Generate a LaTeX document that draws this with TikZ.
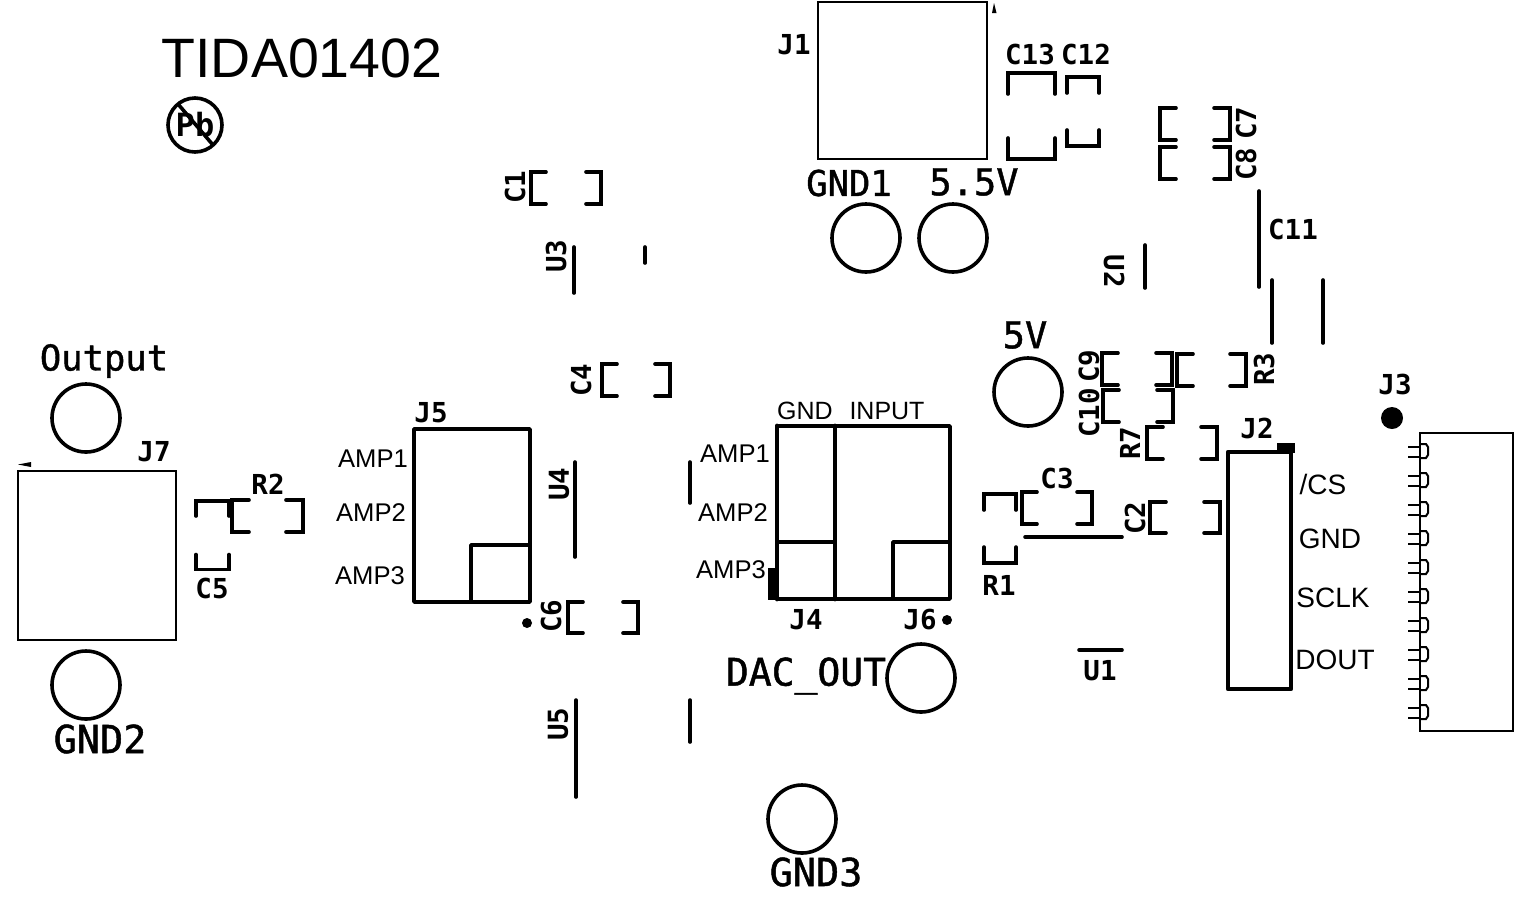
\documentclass[tikz,border=0pt]{standalone}
\usepackage{fontspec}
\setmainfont{Liberation Sans}
\newfontfamily\silkfont[FakeBold=1.2]{DejaVu Sans Mono}
\newfontfamily\silkbold{DejaVu Sans Mono Bold}
\tikzset{
  silksmall/.style={inner sep=0pt,font=\silkbold\fontsize{27.5}{27.5}\selectfont},
  silklarge/.style={inner sep=0pt,font=\silkfont\fontsize{37}{37}\selectfont},
  arial/.style={inner sep=0pt,font=\fontsize{25.6}{25.6}\selectfont},
  thinout/.style={draw=black,line width=2.8pt},
  body/.style={draw=black,line width=3.6pt,line cap=round,line join=round},
  heavy/.style={draw=black,line width=4.8pt,line cap=round,line join=round},
  ink/.style={draw=black,line width=3.6pt,line cap=round,line join=miter},
  pad/.style={draw=black,line width=3.6pt},
  pinline/.style={draw=black,line width=2pt},
}
\newcommand{\brk}[5]{% x1 x2 y1 y2 inner-depth: two facing brackets, horizontal opening
  \draw[ink] (#1+#5,#3) -- (#1,#3) -- (#1,#4) -- (#1+#5,#4);
  \draw[ink] (#2-#5,#3) -- (#2,#3) -- (#2,#4) -- (#2-#5,#4);}
\newcommand{\vbrk}[5]{% x1 x2 y1 y2 depth: top and bottom brackets
  \draw[ink] (#1,#3+#5) -- (#1,#3) -- (#2,#3) -- (#2,#3+#5);
  \draw[ink] (#1,#4-#5) -- (#1,#4) -- (#2,#4) -- (#2,#4-#5);}
\begin{document}
\begin{tikzpicture}[x=1pt,y=-1pt]
\useasboundingbox (0,0) rectangle (1522,898);

% title and lead free mark
\node[inner sep=0pt,font=\fontsize{55.5}{55.5}\selectfont] (title) at (302,58) {TIDA01402};
\node[pad,circle,minimum size=54pt,inner sep=0pt] (pbmark) at (195,125) {};
\node[inner sep=0pt,font=\silkbold\fontsize{32}{32}\selectfont] (pbtext) at (195,125) {Pb};
\draw[pad] (178,104) -- (213,145);

% J1
\node[thinout,minimum width=169pt,minimum height=157pt,inner sep=0pt] (j1box) at (902.5,80.5) {};
\fill (992,13) -- (994,3) -- (996.5,13) -- cycle;
\node[silksmall] (j1) at (794,45) {J1};

% C13 C12
\node[silksmall] (c13) at (1030,54) {C13};
\node[silksmall] (c12) at (1086,54) {C12};
\vbrk{1008}{1055}{73}{159}{21}
\vbrk{1067}{1099}{77}{146}{16}

% C7 C8 C11
\brk{1160}{1230}{108}{140}{16}
\brk{1160}{1230}{147}{179}{16}
\node[silksmall,rotate=90] (c7) at (1246,123) {C7};
\node[silksmall,rotate=90] (c8) at (1246,164) {C8};
\draw[ink] (1259,191) -- (1259,287);
\node[silksmall] (c11) at (1293,229) {C11};
\draw[ink] (1272,280) -- (1272,343);
\draw[ink] (1323,280) -- (1323,343);

% U2
\draw[ink] (1145,245) -- (1145,288);
\node[silksmall,rotate=-90] (u2) at (1114,271) {U2};

% C1 U3 C4 U4 C6 U5
\node[silksmall,rotate=90] (c1) at (515,187) {C1};
\brk{531}{601}{172}{204}{15}
\node[silksmall,rotate=90] (u3) at (556,256) {U3};
\draw[ink] (574,247) -- (574,293);
\draw[ink] (645,247) -- (645,263);
\node[silksmall,rotate=90] (c4) at (581,380) {C4};
\brk{602}{670}{364}{396}{15}
\node[silksmall,rotate=90] (u4) at (559,484) {U4};
\draw[ink] (575,462) -- (575,557);
\draw[ink] (690,462) -- (690,503);
\node[silksmall,rotate=90] (c6) at (551,616) {C6};
\brk{568}{638}{602}{633}{15}
\fill (527,623) circle (5pt);
\node[silksmall,rotate=90] (u5) at (558,724) {U5};
\draw[ink] (576,700) -- (576,797);
\draw[ink] (690,700) -- (690,742);

% J5
\draw[body] (414,429) rectangle (530,602);
\draw[body] (471,602) -- (471,545) -- (530,545);
\node[silksmall] (j5) at (431,413) {J5};
\node[arial] (a1l) at (373,459) {AMP1};
\node[arial] (a2l) at (371,513) {AMP2};
\node[arial] (a3l) at (370,576) {AMP3};

% J4 J6
\draw[body] (777,426) rectangle (950,599);
\draw[heavy] (777,426) -- (777,599);
\draw[heavy] (835,426) -- (835,599);
\draw[body] (777,542) -- (835,542);
\draw[body] (893,599) -- (893,542) -- (950,542);
\fill (768,568) rectangle (778,600);
\node[arial,font=\fontsize{25}{25}\selectfont] (gndl) at (805,411) {GND};
\node[arial,font=\fontsize{25}{25}\selectfont] (inl) at (887,411) {INPUT};
\node[arial] (a1r) at (735,454) {AMP1};
\node[arial] (a2r) at (733,513) {AMP2};
\node[arial] (a3r) at (731,570) {AMP3};
\node[silksmall] (j4) at (806,620) {J4};
\node[silksmall] (j6) at (920,620) {J6};
\fill (947,620) circle (5pt);

% test points
\foreach \nm/\cx/\cy in {tpout/86/418,tpgndb/86/685,tpgnda/866/238,tpfive/953/238,tpv/1028/392,tpdac/921/678,tpgndc/802/819}
  \node[pad,circle,minimum size=68pt,inner sep=0pt] (\nm) at (\cx,\cy) {};
\node[silklarge,font=\silkfont\fontsize{35.5}{35.5}\selectfont] (lgnda) at (849,183) {GND1};
\node[silklarge] (lfive) at (974,182) {5.5V};
\node[silklarge] (lv) at (1025,335) {5V};
\node[silklarge,font=\silkfont\fontsize{35.5}{35.5}\selectfont] (lout) at (104,361) {Output};
\node[silklarge,font=\silkfont\fontsize{38.5}{38.5}\selectfont] (lgndb) at (100,739) {GND2};
\node[silklarge,font=\silkfont\fontsize{38}{38}\selectfont] (ldac) at (806,676) {DAC\_OUT};
\node[silklarge,font=\silkfont\fontsize{38.5}{38.5}\selectfont] (lgndc) at (816,872) {GND3};

% J7
\node[thinout,minimum width=158pt,minimum height=169pt,inner sep=0pt] (j7box) at (97,555.5) {};
\fill (18,464.5) -- (31,462) -- (31,467) -- cycle;
\node[silksmall] (j7) at (154,452) {J7};
\node[silksmall] (r2) at (268,484) {R2};
\node[silksmall] (c5) at (212,588) {C5};
\vbrk{196}{229}{501}{569.5}{15}
\brk{232}{303}{500}{532}{17}

% C9 R3 C10 R7 C2 C3 R1 U1
\brk{1102}{1172}{353}{385}{16}
\node[silksmall,rotate=90] (c9) at (1089,366) {C9};
\brk{1177}{1246}{354}{386}{16}
\node[silksmall,rotate=90] (r3) at (1264,369) {R3};
\brk{1103}{1173}{390}{422}{16}
\node[silksmall,rotate=90] (c10) at (1089,413) {C10};
\brk{1147}{1217}{427}{459}{16}
\node[silksmall,rotate=90] (r7) at (1130,443) {R7};
\brk{1150}{1220}{502}{533}{16}
\node[silksmall,rotate=90] (c2) at (1135,518) {C2};
\brk{1022}{1092}{492}{524}{15}
\node[silksmall] (c3) at (1057,478) {C3};
\draw[ink] (1025,537) -- (1122,537);
\vbrk{984}{1016}{494}{563}{16}
\node[silksmall] (r1) at (999,585) {R1};
\draw[ink] (1079,650) -- (1122,650);
\node[silksmall] (u1) at (1100,671) {U1};

% J2
\draw[heavy] (1228,452) rectangle (1291,689);
\fill (1277,443) rectangle (1295,453);
\node[silksmall] (j2) at (1257,428) {J2};
\node[inner sep=0pt,font=\fontsize{28}{28}\selectfont] (cs) at (1323,484) {/CS};
\node[inner sep=0pt,font=\fontsize{28}{28}\selectfont] (gndr) at (1330,539) {GND};
\node[inner sep=0pt,font=\fontsize{28}{28}\selectfont] (sclk) at (1333,598) {SCLK};
\node[inner sep=0pt,font=\fontsize{28}{28}\selectfont] (dout) at (1335,660) {DOUT};

% J3
\node[silksmall] (j3) at (1395,384) {J3};
\fill (1392,418) circle (11pt);
\node[draw=black,line width=2.8pt,minimum width=93pt,minimum height=298pt,inner sep=0pt] (j3box) at (1466.5,582) {};
\foreach \i in {0,...,9} {
  \pgfmathsetmacro{\yy}{452+29*\i}
  \draw[pinline] (1408,\yy-5) -- (1421,\yy-5);
  \draw[pinline] (1408,\yy+5) -- (1421,\yy+5);
  \draw[pinline] (1421,\yy-8) -- (1426,\yy-8) -- (1428,\yy-5) -- (1428,\yy+3) -- (1426,\yy+6) -- (1421,\yy+6);
}
\end{tikzpicture}
\end{document}
